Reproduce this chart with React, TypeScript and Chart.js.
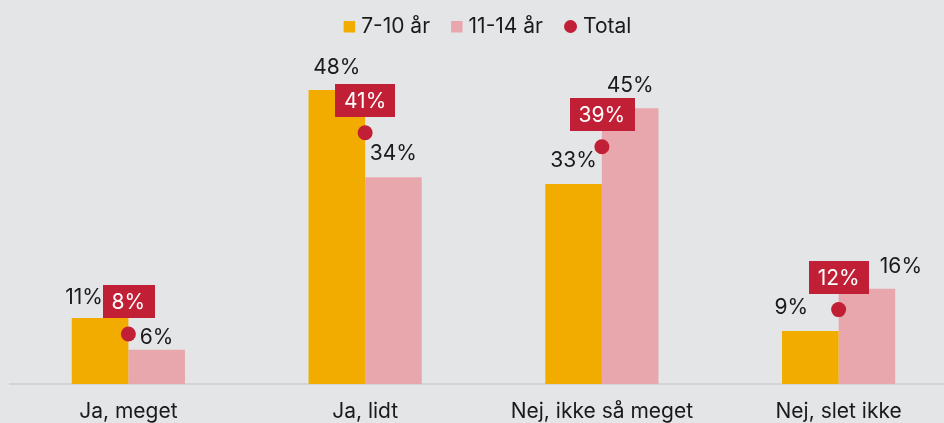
import React, { useEffect, useRef } from "react";
import { Chart, registerables } from "chart.js";

Chart.register(...registerables);

// ---- data ----
const categories = ["Ja, meget", "Ja, lidt", "Nej, ikke så meget", "Nej, slet ikke"];
const seriesNames = ["7-10 år", "11-14 år", "Total"];
const age7to10 = [10.8, 48.2, 32.8, 8.7];
const age11to14 = [5.6, 33.9, 45.2, 15.6];
const totalValues = [8.2, 41.2, 38.9, 12.2];

// ---- styles ----
const BG = "#e4e5e7";
const ORANGE = "#f2ac00";
const PINK = "#e8a7ac";
const RED = "#c11f35";
const TEXT = "#1a1a1a";
const FONT = "Inter";
const FS = 21;

// label nudges (dx, dy) for each bar label, per bar series
const barLabelShift: number[][][] = [
  [[-16, 2], [0, 1], [0, 0], [-19, 0]],
  [[0, 11], [0, -1], [0, 0], [34, 1]],
];

const fmt = (v: number) => `${Math.round(v)}%`;

const bgPlugin = {
  id: "bg",
  beforeDraw(chart: any) {
    const { ctx, width, height } = chart;
    ctx.save();
    ctx.fillStyle = BG;
    ctx.fillRect(0, 0, width, height);
    ctx.restore();
  },
};

const labelsPlugin = {
  id: "valueLabels",
  afterDatasetsDraw(chart: any) {
    const ctx = chart.ctx;
    ctx.save();
    ctx.font = `${FS}px ${FONT}`;
    ctx.textAlign = "center";
    ctx.textBaseline = "alphabetic";
    [0, 1].forEach((di) => {
      const meta = chart.getDatasetMeta(di);
      const vals = chart.data.datasets[di].data as number[];
      meta.data.forEach((el: any, i: number) => {
        const [dx, dy] = barLabelShift[di][i];
        const cy = el.y - 24 + dy;
        ctx.fillStyle = TEXT;
        ctx.fillText(fmt(vals[i]), el.x + dx, cy + 7.5);
      });
    });
    const meta = chart.getDatasetMeta(2);
    const vals = chart.data.datasets[2].data as number[];
    meta.data.forEach((el: any, i: number) => {
      const t = fmt(vals[i]);
      const w = ctx.measureText(t).width + 18;
      const h = 33;
      const cy = el.y - 32;
      ctx.fillStyle = RED;
      ctx.fillRect(Math.round(el.x - w / 2), Math.round(cy - h / 2), Math.round(w), h);
      ctx.fillStyle = "#ffffff";
      ctx.fillText(t, el.x, cy + 7.5);
    });
    ctx.restore();
  },
  afterDraw(chart: any) {
    const ctx = chart.ctx;
    ctx.save();
    ctx.font = `${FS}px ${FONT}`;
    ctx.textBaseline = "alphabetic";
    ctx.textAlign = "left";
    const items = chart.data.datasets.map((ds: any, i: number) => ({
      text: ds.label,
      color: ds.backgroundColor,
      circle: i === 2,
    }));
    const markerW = (it: any) => (it.circle ? 13 : 11.5);
    const gapMT = 6;
    const gapItems = 21;
    const widths = items.map((it: any) => markerW(it) + gapMT + ctx.measureText(it.text).width);
    const total = widths.reduce((a: number, b: number) => a + b, 0) + gapItems * (items.length - 1);
    const center = (chart.chartArea.left + chart.chartArea.right) / 2 + 4;
    let x = center - total / 2;
    items.forEach((it: any, i: number) => {
      ctx.fillStyle = it.color;
      if (it.circle) {
        ctx.beginPath();
        ctx.arc(x + 6.5, 26.5, 6.5, 0, Math.PI * 2);
        ctx.fill();
      } else {
        ctx.fillRect(x, 21, 11.5, 11.5);
      }
      ctx.fillStyle = TEXT;
      ctx.fillText(it.text, x + markerW(it) + gapMT, 33.3);
      x += widths[i] + gapItems;
    });
    ctx.restore();
  },
};

export default function App() {
  const ref = useRef<HTMLCanvasElement>(null);
  useEffect(() => {
    let chart: Chart | null = null;
    let cancelled = false;
    const make = () => {
      if (cancelled || !ref.current) return;
      Chart.defaults.font.family = FONT;
      chart = new Chart(ref.current, {
        type: "bar",
        data: {
          labels: categories,
          datasets: [
            {
              label: seriesNames[0],
              data: age7to10,
              backgroundColor: ORANGE,
              borderWidth: 0,
              categoryPercentage: 0.478,
              barPercentage: 1,
            },
            {
              label: seriesNames[1],
              data: age11to14,
              backgroundColor: PINK,
              borderWidth: 0,
              categoryPercentage: 0.478,
              barPercentage: 1,
            },
            {
              type: "line",
              label: seriesNames[2],
              data: totalValues,
              backgroundColor: RED,
              borderColor: RED,
              showLine: false,
              pointRadius: 7.5,
              pointBorderWidth: 0,
              pointBackgroundColor: RED,
              order: -1,
            } as any,
          ],
        },
        options: {
          responsive: false,
          animation: false,
          events: [],
          layout: { autoPadding: false, padding: { left: 10, right: 0, top: 79, bottom: 0 } },
          plugins: {
            legend: { display: false },
            tooltip: { enabled: false },
          },
          scales: {
            x: {
              type: "category",
              offset: true,
              grid: { display: false, drawTicks: false, tickLength: 0 },
              border: { display: true, color: "#d3d4d6", width: 2 },
              ticks: {
                color: TEXT,
                font: { family: FONT, size: FS },
                padding: 15.5,
                maxRotation: 0,
                autoSkip: false,
              },
              afterFit: (scale: any) => {
                scale.height = 40;
              },
            },
            y: {
              display: false,
              min: 0,
              max: 50,
            },
          },
        } as any,
        plugins: [bgPlugin, labelsPlugin],
      });
    };
    if ((document as any).fonts && (document as any).fonts.load) {
      (document as any).fonts.load(`${FS}px ${FONT}`).then(make, make);
    } else {
      make();
    }
    return () => {
      cancelled = true;
      if (chart) chart.destroy();
    };
  }, []);
  return (
    <div style={{ position: "fixed", left: 0, top: 0, width: 957, height: 424, background: BG }}>
      <canvas ref={ref} width={957} height={424} style={{ display: "block" }} />
    </div>
  );
}
